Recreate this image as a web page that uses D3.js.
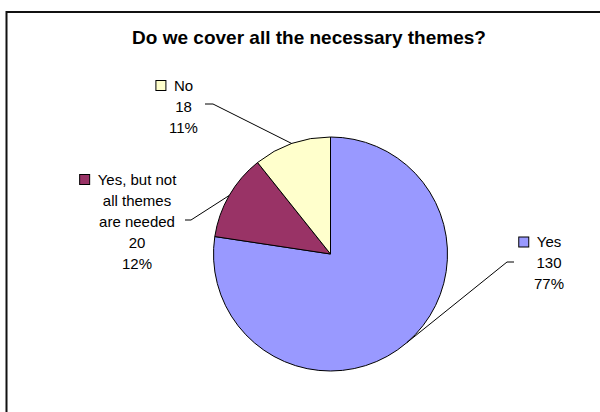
<!DOCTYPE html>
<html>
<head>
<meta charset="utf-8">
<script src="https://cdn.jsdelivr.net/npm/d3@7"></script>
<style>
  html, body { margin: 0; padding: 0; background: #fff; }
  svg { display: block; font-family: Arial, "Liberation Sans", sans-serif; }
</style>
</head>
<body>
<div id="chart"></div>
<script>
// data
const categories = ["Yes", "Yes, but not all themes are needed", "No"];
const counts = [130, 20, 18];
const percents = ["77%", "12%", "11%"];
const colors = ["#9999FF", "#993366", "#FFFFCC"];
// how each category name is wrapped in its label
const nameLines = [["Yes"], ["Yes, but not", "all themes", "are needed"], ["No"]];

const title = "Do we cover all the necessary themes?";

// size
var width = 600,
  height = 412;

var svg = d3
  .select("#chart")
  .append("svg")
  .attr("width", width)
  .attr("height", height);

// chart border (runs off the right and bottom of the picture)
svg
  .append("rect")
  .attr("x", 6.5)
  .attr("y", 12)
  .attr("width", 640)
  .attr("height", 440)
  .attr("fill", "#fff")
  .attr("stroke", "#111")
  .attr("stroke-width", 2);

// title
svg
  .append("text")
  .attr("x", 309)
  .attr("y", 44)
  .attr("text-anchor", "middle")
  .style("font-size", "19px")
  .style("font-weight", "bold")
  .attr("fill", "#000")
  .text(title);

// pie
var cx = 330.5,
  cy = 254,
  radius = 117;

var pie = d3
  .pie()
  .sort(null)
  .value((d) => d);

var slices = pie(counts);

var arc = d3.arc().innerRadius(0).outerRadius(radius);
var edge = d3.arc().innerRadius(radius).outerRadius(radius);

var g = svg
  .append("g")
  .attr("transform", "translate(" + cx + "," + cy + ")");

g.selectAll("path.slice")
  .data(slices)
  .enter()
  .append("path")
  .attr("class", "slice")
  .attr("d", arc)
  .attr("fill", (d, i) => colors[i])
  .attr("stroke", "#000")
  .attr("stroke-width", 1);

// label layout: centre x, first baseline, leader start/elbow (page coords)
var labelLayout = [
  { x: 549, y: 247, lead: [[514, 262], [507, 262]] },
  { x: 137, y: 184.5, lead: [[185, 220], [191, 220]] },
  { x: 183.5, y: 90.5, lead: [[205, 104], [213, 104]] },
];
var lineStep = 21;

slices.forEach(function (d, i) {
  var L = labelLayout[i];
  var lines = nameLines[i].concat([String(counts[i]), percents[i]]);

  var lab = svg.append("g").attr("class", "label");
  var first = null;
  lines.forEach(function (t, j) {
    var tx = lab
      .append("text")
      .attr("x", L.x)
      .attr("y", L.y + j * lineStep)
      .attr("text-anchor", "middle")
      .style("font-size", "15px")
      .attr("fill", "#000")
      .text(t);
    if (j == 0) first = tx;
  });

  // legend key in front of the first line
  var bb = first.node().getBBox();
  lab
    .append("rect")
    .attr("x", bb.x - 18)
    .attr("y", L.y - 10)
    .attr("width", 10)
    .attr("height", 10)
    .attr("fill", colors[i])
    .attr("stroke", "#000")
    .attr("stroke-width", 1);

  // leader line
  var p = edge.centroid(d);
  var pts = L.lead.concat([[cx + p[0], cy + p[1]]]);
  svg
    .append("path")
    .attr("d", d3.line()(pts))
    .attr("fill", "none")
    .attr("stroke", "#000")
    .attr("stroke-width", 1);
});
</script>
</body>
</html>
